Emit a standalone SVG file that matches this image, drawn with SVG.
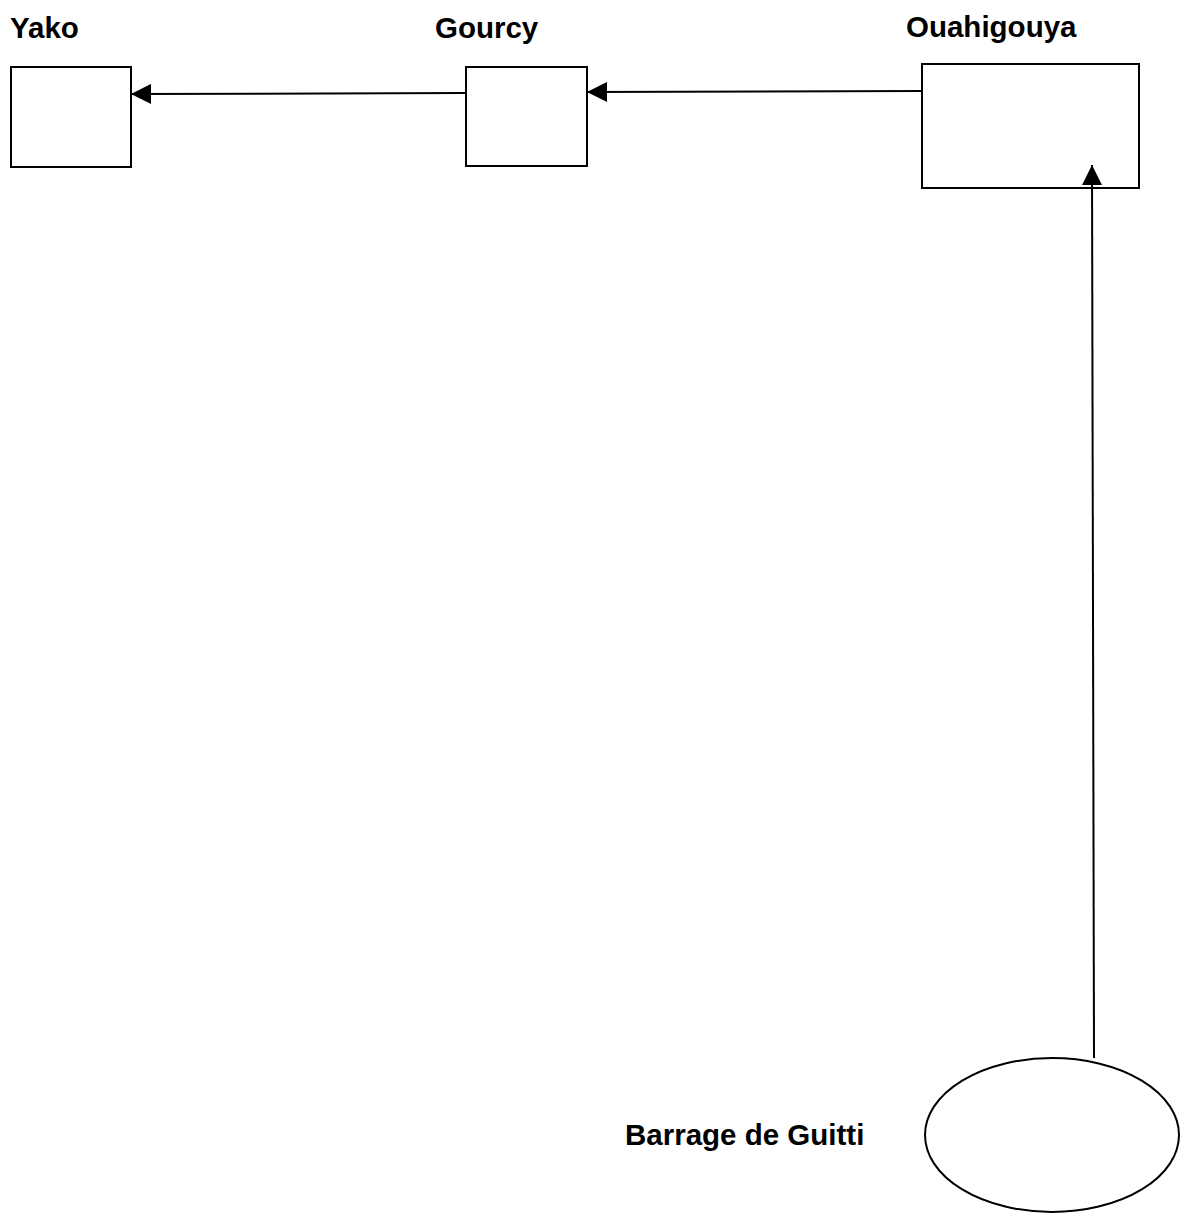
<svg xmlns="http://www.w3.org/2000/svg" width="1184" height="1227" viewBox="0 0 1184 1227">
<style>
.node{fill:#fff;stroke:#000;stroke-width:2}
.lbl{font-family:"Liberation Sans",Arial,sans-serif;font-weight:bold;font-size:29.5px;fill:#000}
.edge{stroke:#000;stroke-width:2;fill:none}
</style>
<defs>
<marker id="ah" markerWidth="20" markerHeight="20" refX="20" refY="10" orient="auto" markerUnits="userSpaceOnUse">
<path d="M0,0 L20,10 L0,20 Z" fill="#000"/>
</marker>
</defs>
<rect width="1184" height="1227" fill="#fff"/>
<g id="yako">
<rect class="node" x="11" y="67" width="120" height="100"/>
<text class="lbl" x="10" y="38">Yako</text>
</g>
<g id="gourcy">
<rect class="node" x="466" y="67" width="121" height="99"/>
<text class="lbl" x="435" y="38">Gourcy</text>
</g>
<g id="ouahigouya">
<rect class="node" x="922" y="64" width="217" height="124"/>
<text class="lbl" x="906" y="37">Ouahigouya</text>
</g>
<g id="barrage">
<ellipse class="node" cx="1052" cy="1135" rx="127" ry="77"/>
<text class="lbl" x="625" y="1145">Barrage de Guitti</text>
</g>
<g id="connectors">
<line class="edge" x1="466" y1="93" x2="131" y2="94" marker-end="url(#ah)"/>
<line class="edge" x1="922" y1="91" x2="587" y2="92" marker-end="url(#ah)"/>
<line class="edge" x1="1094" y1="1058" x2="1092" y2="165" marker-end="url(#ah)"/>
</g>
</svg>
